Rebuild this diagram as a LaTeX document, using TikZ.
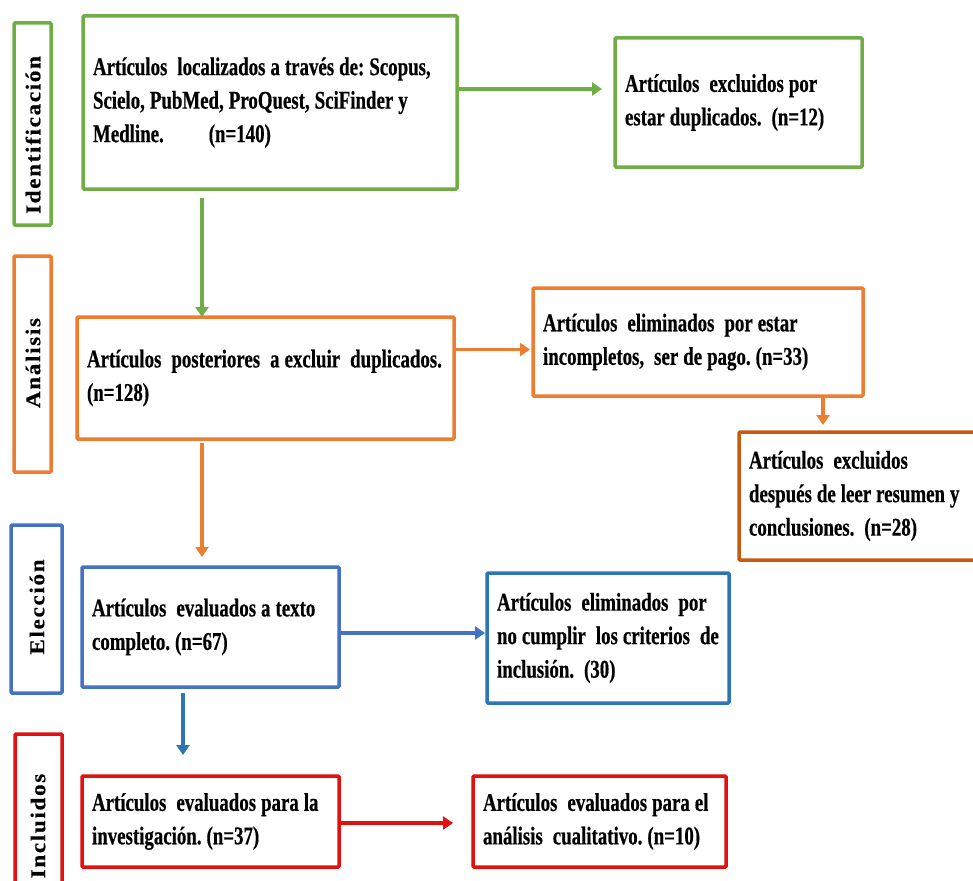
\documentclass[tikz,border=0pt]{standalone}
\usepackage{fontspec}
\usetikzlibrary{arrows.meta}
\newfontfamily\boxfont{Liberation Serif}[FakeStretch=0.74,FakeBold=0.5]
\newfontfamily\sidefont{Liberation Serif}[FakeStretch=1.1,LetterSpace=8,FakeBold=0.5]
\definecolor{cgreen}{HTML}{70AD47}
\definecolor{corange}{HTML}{ED7D31}
\definecolor{cbrown}{HTML}{C55A11}
\definecolor{cblueA}{HTML}{4472C4}
\definecolor{cblueB}{HTML}{2E75B6}
\definecolor{cred}{HTML}{E31010}
\newcommand{\oneline}[1]{\mbox{\frenchspacing\spaceskip=5pt\relax #1}}
\newcommand{\dsp}{\hspace{10pt}}
\tikzset{
  box/.style={draw=#1, line width=3.5pt, rounded corners=1pt, outer sep=0pt,
    inner xsep=10pt, inner ysep=0pt, align=left,
    font=\boxfont\bfseries\fontsize{25.5}{33.5}\selectfont},
  sidebox/.style={draw=#1, line width=3.5pt, rounded corners=1pt, outer sep=0pt, inner sep=0pt},
  sidelabel/.style={rotate=90, inner sep=0pt, font=\sidefont\bfseries\fontsize{21}{21}\selectfont},
  arr/.style={draw=#1, line width=3.5pt, -{Triangle[length=10pt,width=13pt]}}
}
\begin{document}
\begin{tikzpicture}[x=1pt,y=-1pt]
\useasboundingbox (0,0) rectangle (973,880);
\clip (0,0) rectangle (973,880);
\fill[white] (0,0) rectangle (973,880);
% side boxes
\node[sidebox=cgreen, minimum width=37pt, minimum height=202pt] (s1) at (32.5,124) {};
\node[sidebox=corange, minimum width=37pt, minimum height=216pt] (s2) at (32.5,364) {};
\node[sidebox=cblueA, minimum width=51pt, minimum height=168pt] (s3) at (36.5,609) {};
\node[sidebox=cred, minimum width=47pt, minimum height=166pt] (s4) at (38.5,817) {};
\node[sidelabel] (l1) at (33,135) {Identificación};
\node[sidelabel] (l2) at (33,363) {Análisis};
\node[sidelabel] (l3) at (37,607) {Elección};
\node[sidelabel] (l4) at (38,826) {Incluidos};
% main boxes
\node[box=cgreen, minimum height=173pt, text width=354pt] (b1) at (270,102.5)
  {\oneline{Artículos\dsp localizados a través de: Scopus,}\\\oneline{Scielo, PubMed, ProQuest, SciFinder y}\\\oneline{Medline.\hspace{45pt}(n=140)}};
\node[box=cgreen, minimum height=129pt, text width=227pt] (b2) at (738.5,102.5)
  {\oneline{Artículos\dsp excluidos por}\\\oneline{estar duplicados.\dsp(n=12)}};
\node[box=corange, minimum height=122pt, text width=357pt] (b3) at (265.5,378)
  {\oneline{Artículos\dsp posteriores\dsp a excluir\dsp duplicados.}\\\oneline{(n=128)}};
\node[box=corange, minimum height=108pt, text width=310pt] (b4) at (698,342)
  {\oneline{Artículos\dsp eliminados\dsp por estar}\\\oneline{incompletos,\dsp ser de pago. (n=33)}};
\node[box=cbrown, minimum height=128pt, text width=231pt] (b5) at (864.5,496)
  {\oneline{Artículos\dsp excluidos}\\\oneline{después de leer resumen y}\\\oneline{conclusiones.\dsp(n=28)}};
\node[box=cblueA, minimum height=120pt, text width=237pt] (b6) at (210.5,627)
  {\oneline{Artículos\dsp evaluados a texto}\\\oneline{completo. (n=67)}};
\node[box=cblueB, minimum height=130pt, text width=222pt] (b7) at (608,638)
  {\oneline{Artículos\dsp eliminados\dsp por}\\\oneline{no cumplir\dsp los criterios\dsp de}\\\oneline{inclusión.\dsp(30)}};
\node[box=cred, minimum height=91pt, text width=237pt] (b8) at (210.5,821.5)
  {\oneline{Artículos\dsp evaluados para la}\\\oneline{investigación. (n=37)}};
\node[box=cred, minimum height=91pt, text width=233pt] (b9) at (599.5,821.5)
  {\oneline{Artículos\dsp evaluados para el}\\\oneline{análisis\dsp cualitativo. (n=10)}};
% connectors
\draw[arr=cgreen, shorten >=13pt] ([yshift=13.5pt]b1.east) -- ([yshift=13.5pt]b1.east -| b2.west);
\draw[arr=cgreen, shorten <=9pt] ([xshift=-68pt]b1.south) -- ([xshift=-68pt]b1.south |- b3.north);
\draw[arr=corange, shorten >=3pt] ([yshift=28.5pt]b3.east) -- ([yshift=28.5pt]b3.east -| b4.west);
\draw[arr=corange, shorten >=7pt] ([xshift=125pt]b4.south) -- ([xshift=125pt]b4.south |- b5.north);
\draw[arr=corange, shorten <=4pt, shorten >=10pt] ([xshift=-63.5pt]b3.south) -- ([xshift=-63.5pt]b3.south |- b6.north);
\draw[arr=cblueA, shorten >=2pt] ([yshift=-6pt]b6.east) -- ([yshift=-6pt]b6.east -| b7.west);
\draw[arr=cblueB, shorten <=6pt, shorten >=21pt] ([xshift=-27.5pt]b6.south) -- ([xshift=-27.5pt]b6.south |- b8.north);
\draw[arr=cred, shorten >=20pt] ([yshift=-1.5pt]b8.east) -- ([yshift=-1.5pt]b8.east -| b9.west);
\end{tikzpicture}
\end{document}
